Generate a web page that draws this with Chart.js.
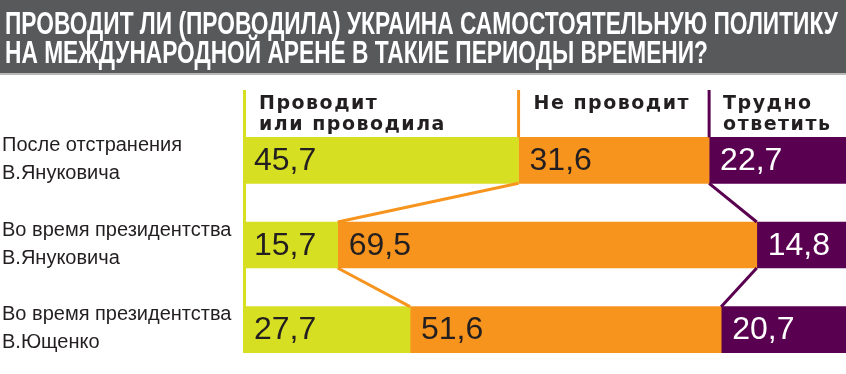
<!DOCTYPE html>
<html>
<head>
<meta charset="utf-8">
<script src="https://cdn.jsdelivr.net/npm/chart.js@4"></script>
<style>
html,body{margin:0;padding:0;background:#fff;}
#wrap{width:846px;height:374px;position:relative;}
</style>
</head>
<body>
<div id="wrap"><canvas id="c" width="846" height="374"></canvas></div>
<script>
const titleLines = [
  "ПРОВОДИТ ЛИ (ПРОВОДИЛА) УКРАИНА САМОСТОЯТЕЛЬНУЮ ПОЛИТИКУ",
  "НА МЕЖДУНАРОДНОЙ АРЕНЕ В ТАКИЕ ПЕРИОДЫ ВРЕМЕНИ?"
];
const categories = [
  ["После отстранения", "В.Януковича"],
  ["Во время президентства", "В.Януковича"],
  ["Во время президентства", "В.Ющенко"]
];
const seriesNames = [
  ["Проводит", "или проводила"],
  ["Не проводит"],
  ["Трудно", "ответить"]
];
const doValues = [45.7, 15.7, 27.7];
const notValues = [31.6, 69.5, 51.6];
const hardValues = [22.7, 14.8, 20.7];

const colors = ["#d7df23", "#f7941d", "#5a0050"];
const labelColors = ["#231f20", "#231f20", "#ffffff"];

const overlay = {
  id: 'overlay',
  beforeDraw(chart) {
    const ctx = chart.ctx;
    ctx.save();
    ctx.fillStyle = '#ffffff';
    ctx.fillRect(0, 0, chart.width, chart.height);
    ctx.fillStyle = '#58595b';
    ctx.fillRect(0, 0, chart.width, 73);
    ctx.fillStyle = '#b8b8b8';
    ctx.fillRect(0, 73, chart.width, 2);
    // title
    ctx.fillStyle = '#ffffff';
    ctx.font = 'bold 31px "Liberation Sans", Arial, sans-serif';
    ctx.textBaseline = 'alphabetic';
    ctx.textAlign = 'left';
    const w0 = ctx.measureText(titleLines[0]).width;
    const sx = 833 / w0;
    const baselines = [34, 63];
    titleLines.forEach((t, i) => {
      ctx.save();
      ctx.translate(5, baselines[i]);
      ctx.scale(sx, 1);
      ctx.fillText(t, 0, 0);
      ctx.restore();
    });
    // category labels
    const yScale = chart.scales.y;
    ctx.fillStyle = '#231f20';
    ctx.font = '20px "Liberation Sans", Arial, sans-serif';
    ctx.textBaseline = 'middle';
    categories.forEach((lines, i) => {
      const cy = yScale.getPixelForValue(i);
      ctx.fillText(lines[0], 2, cy - 15);
      ctx.fillText(lines[1], 2, cy + 13);
    });
    ctx.restore();
  },
  afterDatasetsDraw(chart) {
    const ctx = chart.ctx;
    ctx.save();
    const metas = chart.data.datasets.map((d, i) => chart.getDatasetMeta(i));
    const topY = 90;
    // green vertical line
    const last = metas[0].data[metas[0].data.length - 1];
    ctx.strokeStyle = colors[0];
    ctx.lineWidth = 3;
    ctx.beginPath();
    ctx.moveTo(chart.chartArea.left + 1.5, topY);
    ctx.lineTo(chart.chartArea.left + 1.5, last.y + last.height / 2);
    ctx.stroke();
    // orange/purple vertical lines + connectors
    for (let d = 1; d < metas.length; d++) {
      const els = metas[d].data;
      ctx.strokeStyle = colors[d];
      ctx.lineWidth = 3;
      ctx.beginPath();
      ctx.moveTo(els[0].base, topY);
      ctx.lineTo(els[0].base, els[0].y - els[0].height / 2);
      ctx.stroke();
      for (let r = 0; r < els.length - 1; r++) {
        const a = els[r], b = els[r + 1];
        ctx.beginPath();
        ctx.moveTo(a.base, a.y + a.height / 2);
        ctx.lineTo(b.base, b.y - b.height / 2);
        ctx.stroke();
      }
    }
    // header labels
    ctx.fillStyle = '#231f20';
    ctx.font = 'bold 19px "DejaVu Sans", sans-serif';
    ctx.textBaseline = 'alphabetic';
    ctx.textAlign = 'left';
    try { ctx.letterSpacing = '1.5px'; } catch (e) {}
    const hx = [chart.chartArea.left + 16, metas[1].data[0].base + 15, metas[2].data[0].base + 14];
    seriesNames.forEach((lines, i) => {
      lines.forEach((t, j) => ctx.fillText(t, hx[i], 109 + j * 21));
    });
    try { ctx.letterSpacing = '0px'; } catch (e) {}
    // value labels
    ctx.font = '32px "Liberation Sans", Arial, sans-serif';
    ctx.textBaseline = 'middle';
    metas.forEach((m, d) => {
      ctx.fillStyle = labelColors[d];
      m.data.forEach((el, r) => {
        const v = chart.data.datasets[d].data[r];
        ctx.fillText(v.toFixed(1).replace('.', ','), el.base + 11, el.y + 1);
      });
    });
    ctx.restore();
  }
};

new Chart(document.getElementById('c'), {
  type: 'bar',
  data: {
    labels: categories.map(c => c.join(' ')),
    datasets: [
      { label: seriesNames[0].join(' '), data: doValues, backgroundColor: colors[0] },
      { label: seriesNames[1].join(' '), data: notValues, backgroundColor: colors[1] },
      { label: seriesNames[2].join(' '), data: hardValues, backgroundColor: colors[2] }
    ]
  },
  options: {
    indexAxis: 'y',
    responsive: false,
    animation: false,
    barThickness: 46,
    borderWidth: 0,
    layout: { padding: { left: 243, right: 0, top: 118, bottom: 2 } },
    scales: {
      x: { stacked: true, min: 0, max: 100, display: false },
      y: { stacked: true, display: false }
    },
    plugins: {
      legend: { display: false },
      tooltip: { enabled: false },
      title: { display: false }
    }
  },
  plugins: [overlay]
});
</script>
</body>
</html>
